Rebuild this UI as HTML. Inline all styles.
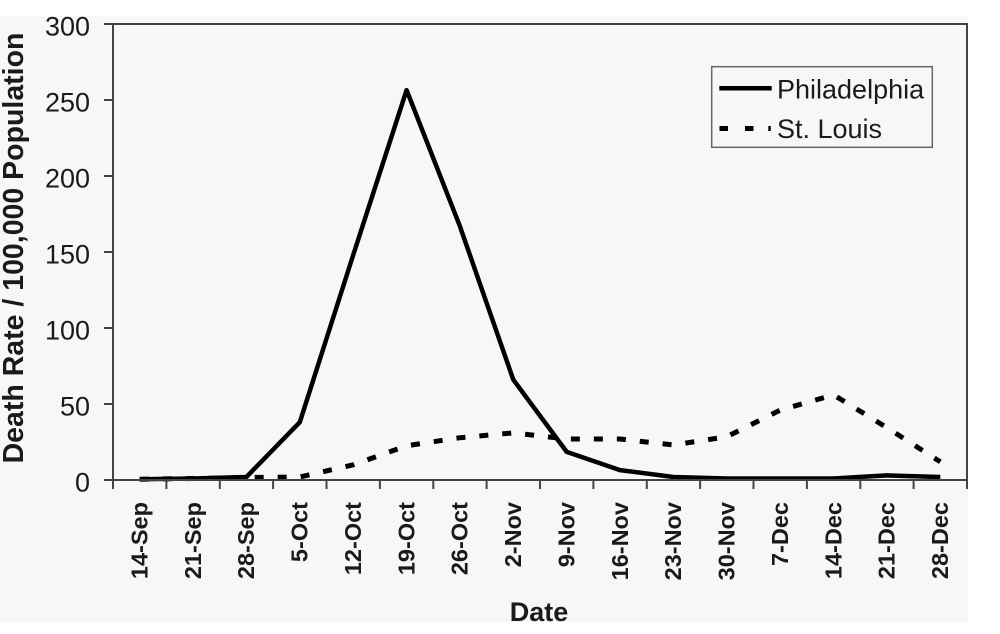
<!DOCTYPE html>
<html>
<head>
<meta charset="utf-8">
<style>
  html, body { margin: 0; padding: 0; background: #ffffff; }
  body { width: 1000px; height: 634px; overflow: hidden; }
  svg { display: block; }
  text { font-family: "Liberation Sans", Arial, sans-serif; fill: #1a1a1a; }
</style>
</head>
<body>
<svg width="1000" height="634" viewBox="0 0 1000 634" xmlns="http://www.w3.org/2000/svg">
  <rect x="0" y="0" width="1000" height="634" fill="#ffffff"/>
  <rect x="0" y="16" width="968" height="606" fill="#f7f7f7"/>

  <!-- Y axis title -->
  <text transform="translate(23,248) rotate(-90)" text-anchor="middle" font-weight="bold" font-size="28.5">Death Rate / 100,000 Population</text>

  <!-- Y tick labels -->
  <g font-size="27" text-anchor="end">
    <text x="90" y="35.5">300</text>
    <text x="90" y="111.5">250</text>
    <text x="90" y="187.5">200</text>
    <text x="90" y="263.5">150</text>
    <text x="90" y="339.5">100</text>
    <text x="90" y="415.5">50</text>
    <text x="90" y="491.5">0</text>
  </g>

  <!-- Y ticks -->
  <g stroke="#444" stroke-width="2">
    <line x1="104" y1="24" x2="113" y2="24"/>
    <line x1="104" y1="100" x2="113" y2="100"/>
    <line x1="104" y1="176" x2="113" y2="176"/>
    <line x1="104" y1="252" x2="113" y2="252"/>
    <line x1="104" y1="328" x2="113" y2="328"/>
    <line x1="104" y1="404" x2="113" y2="404"/>
    <line x1="104" y1="480" x2="113" y2="480"/>
  </g>

  <!-- X ticks -->
  <g stroke="#444" stroke-width="2">
    <line x1="113" y1="480" x2="113" y2="489"/>
    <line x1="166.4" y1="480" x2="166.4" y2="489"/>
    <line x1="219.8" y1="480" x2="219.8" y2="489"/>
    <line x1="273.1" y1="480" x2="273.1" y2="489"/>
    <line x1="326.5" y1="480" x2="326.5" y2="489"/>
    <line x1="379.9" y1="480" x2="379.9" y2="489"/>
    <line x1="433.3" y1="480" x2="433.3" y2="489"/>
    <line x1="486.6" y1="480" x2="486.6" y2="489"/>
    <line x1="540" y1="480" x2="540" y2="489"/>
    <line x1="593.4" y1="480" x2="593.4" y2="489"/>
    <line x1="646.8" y1="480" x2="646.8" y2="489"/>
    <line x1="700.1" y1="480" x2="700.1" y2="489"/>
    <line x1="753.5" y1="480" x2="753.5" y2="489"/>
    <line x1="806.9" y1="480" x2="806.9" y2="489"/>
    <line x1="860.3" y1="480" x2="860.3" y2="489"/>
    <line x1="913.6" y1="480" x2="913.6" y2="489"/>
    <line x1="967" y1="480" x2="967" y2="489"/>
  </g>

  <!-- X tick labels -->
  <g font-size="23.5" font-weight="bold" text-anchor="end">
    <text transform="translate(147.5,502) rotate(-90)">14-Sep</text>
    <text transform="translate(200.9,502) rotate(-90)">21-Sep</text>
    <text transform="translate(254.2,502) rotate(-90)">28-Sep</text>
    <text transform="translate(307.6,502) rotate(-90)">5-Oct</text>
    <text transform="translate(361,502) rotate(-90)">12-Oct</text>
    <text transform="translate(414.4,502) rotate(-90)">19-Oct</text>
    <text transform="translate(467.7,502) rotate(-90)">26-Oct</text>
    <text transform="translate(521.1,502) rotate(-90)">2-Nov</text>
    <text transform="translate(574.5,502) rotate(-90)">9-Nov</text>
    <text transform="translate(627.8,502) rotate(-90)">16-Nov</text>
    <text transform="translate(681.2,502) rotate(-90)">23-Nov</text>
    <text transform="translate(734.6,502) rotate(-90)">30-Nov</text>
    <text transform="translate(788,502) rotate(-90)">7-Dec</text>
    <text transform="translate(841.4,502) rotate(-90)">14-Dec</text>
    <text transform="translate(894.7,502) rotate(-90)">21-Dec</text>
    <text transform="translate(948.1,502) rotate(-90)">28-Dec</text>
  </g>

  <!-- X axis title -->
  <text x="539" y="621" text-anchor="middle" font-weight="bold" font-size="27">Date</text>

  <!-- St. Louis (dashed) -->
  <polyline fill="none" stroke="#000" stroke-width="5" stroke-dasharray="9 14" stroke-linejoin="round"
    points="139.7,479.2 193.1,478.5 246.4,477.5 299.8,477 353.2,464.8 406.6,445.8 459.9,437.7 513.3,432.9 566.7,439 620,439 673.4,445 726.8,436.7 780.2,410.1 833.6,394.9 886.9,427.6 940.3,461.8"/>

  <!-- Philadelphia (solid) -->
  <polyline fill="none" stroke="#000" stroke-width="4.5" stroke-linejoin="round"
    points="139.7,479.2 193.1,478.5 246.4,477 299.8,422.2 353.2,255 406.6,90.1 459.9,226.2 513.3,379.7 566.7,451.9 620,470.1 673.4,477 726.8,478.5 780.2,478.5 833.6,478.5 886.9,475.4 940.3,477"/>

  <!-- Plot frame -->
  <rect x="113" y="24" width="854" height="456" fill="none" stroke="#444" stroke-width="2"/>

  <!-- Legend -->
  <rect x="711.7" y="66.7" width="220.6" height="80.6" fill="#f7f7f7" stroke="#666" stroke-width="1.5"/>
  <line x1="719.3" y1="88.3" x2="771.7" y2="88.3" stroke="#000" stroke-width="4.5"/>
  <rect x="719.5" y="126" width="8.5" height="5" fill="#000"/>
  <rect x="745" y="126" width="8.5" height="5" fill="#000"/>
  <rect x="768.3" y="126" width="2.5" height="5" fill="#000"/>
  <g font-size="27">
    <text x="777" y="98.5">Philadelphia</text>
    <text x="777" y="138">St. Louis</text>
  </g>

  <!-- bottom white band -->
  <rect x="0" y="622" width="1000" height="12" fill="#ffffff"/>
</svg>
</body>
</html>
